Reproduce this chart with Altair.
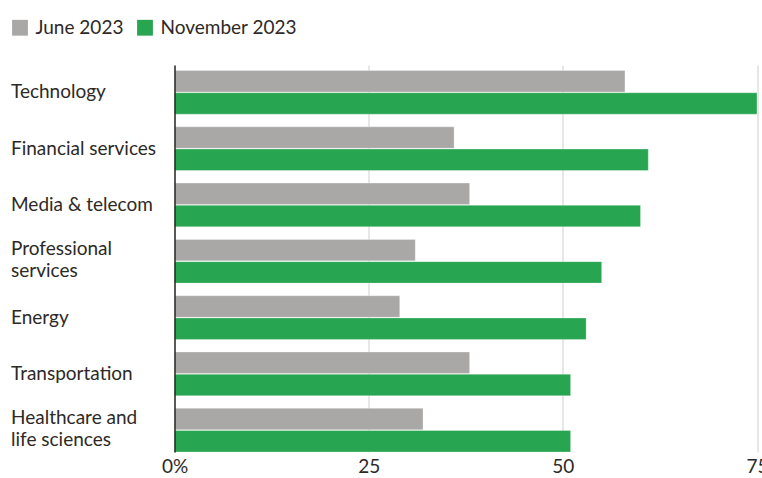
import altair as alt
import pandas as pd

categories = ["Technology", "Financial services", "Media & telecom",
              "Professional services", "Energy", "Transportation",
              "Healthcare and life sciences"]
label_lines = ["Technology", "Financial services", "Media & telecom",
               "Professional|services", "Energy", "Transportation",
               "Healthcare and|life sciences"]
june_2023 = [58, 36, 38, 31, 29, 38, 32]
november_2023 = [75, 61, 60, 55, 53, 51, 51]
series = ["June 2023", "November 2023"]
colors = ["#a9a8a6", "#27a550"]
x_ticks = [0, 25, 50, 75]

rows = []
for lab, j, n in zip(label_lines, june_2023, november_2023):
    rows.append({"cat": lab, "series": series[0], "value": j})
    rows.append({"cat": lab, "series": series[1], "value": n})
df = pd.DataFrame(rows)

FONT = "Lato"
TXT = "#2d2926"

chart = alt.Chart(df).mark_bar(stroke="white", strokeWidth=0.5, strokeOpacity=0.6).encode(
    x=alt.X("value:Q",
            scale=alt.Scale(domain=[0, 75], nice=False),
            axis=alt.Axis(values=x_ticks, title=None, domain=False, ticks=False,
                          grid=True, gridColor="#cfcfcf", gridWidth=1,
                          labelExpr="datum.value == 0 ? '0%' : datum.label",
                          labelFont=FONT, labelFontSize=19, labelColor=TXT,
                          labelPadding=5, labelFlush=False)),
    y=alt.Y("cat:N", sort=label_lines,
            scale=alt.Scale(paddingInner=0.224, paddingOuter=0.049, align=1),
            axis=alt.Axis(title=None, ticks=False, tickSize=0, domain=True,
                          domainColor=TXT, domainWidth=1.5, grid=False,
                          labelAlign="left", labelBaseline="middle",
                          labelPadding=164,
                          labelOffset={"condition": {"test": "indexof(datum.value, '|') >= 0",
                                                     "value": -12},
                                       "value": 0},
                          labelExpr="split(datum.label, '|')",
                          labelFont=FONT, labelFontSize=19, labelColor=TXT,
                          labelLineHeight=22, zindex=1)),
    yOffset=alt.YOffset("series:N", sort=series,
                        scale=alt.Scale(paddingInner=0.035, paddingOuter=0)),
    color=alt.Color("series:N", sort=series,
                    scale=alt.Scale(domain=series, range=colors),
                    legend=alt.Legend(title=None, orient="none", direction="horizontal",
                                      legendX=-164, legendY=-47, padding=0,
                                      symbolType="square", symbolSize=250,
                                      symbolStrokeWidth=0, symbolOpacity=1,
                                      labelFont=FONT, labelFontSize=19, labelColor=TXT,
                                      labelOffset=6, columnPadding=12)),
).properties(
    width=582.5, height=387,
    autosize=alt.AutoSizeParams(type="none"),
    padding={"left": 174.5, "top": 65, "right": 5, "bottom": 26},
).configure_view(stroke=None)

chart.save("out.html", embed_options={"renderer": "svg", "actions": False})
